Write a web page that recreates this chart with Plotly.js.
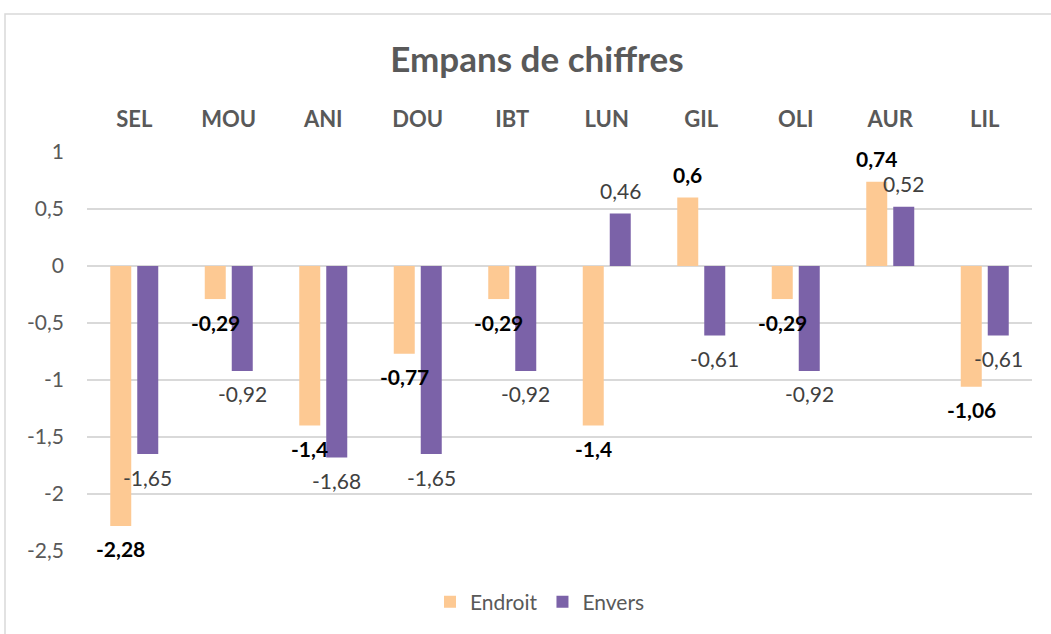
<!DOCTYPE html>
<html>
<head>
<meta charset="utf-8">
<script src="https://cdn.plot.ly/plotly-3.0.1.min.js"></script>
<style>
html,body{margin:0;padding:0;background:#fff;}
#chart{width:1051px;height:634px;}
</style>
</head>
<body>
<div id="chart"></div>
<script>
const categories = ["SEL","MOU","ANI","DOU","IBT","LUN","GIL","OLI","AUR","LIL"];
const endroit = [-2.28,-0.29,-1.4,-0.77,-0.29,-1.4,0.6,-0.29,0.74,-1.06];
const envers  = [-1.65,-0.92,-1.68,-1.65,-0.92,0.46,-0.61,-0.92,0.52,-0.61];
const yTickVals = [1,0.5,0,-0.5,-1,-1.5,-2,-2.5];
const yTickText = ["1","0,5","0","-0,5","-1","-1,5","-2","-2,5"];

const FONT = "Lato, 'Open Sans', sans-serif";
const W = 1051, H = 634;
const margin = {l:87, r:19, t:152, b:83};
const bargap = 0.4286, bargroupgap = 0.222;
const catW = (W - margin.l - margin.r) / categories.length;
const slot = catW * (1 - bargap) / 2;

function fmt(v){ return String(v).replace('.', ','); }

const traces = [
  {type:'bar', name:'Endroit', x:categories, y:endroit, marker:{color:'#FDC993'}, hoverinfo:'x+y'},
  {type:'bar', name:'Envers', x:categories, y:envers, marker:{color:'#7B62A8'}, hoverinfo:'x+y'}
];

const annotations = [];
[[endroit, -slot/2, true], [envers, slot/2, false]].forEach(([vals, xs, bold]) => {
  vals.forEach((v, i) => {
    annotations.push({
      x: categories[i], y: v, xref:'x', yref:'y',
      text: bold ? '<b>' + fmt(v) + '</b>' : fmt(v),
      showarrow:false, xshift: xs, yshift: v < 0 ? -23 : 23,
      font:{family:FONT, size:21, color: bold ? '#000000' : '#404040'}
    });
  });
});

const plotW = W - margin.l - margin.r, plotH = H - margin.t - margin.b;
const layout = {
  width:W, height:H, margin:margin,
  paper_bgcolor:'#ffffff', plot_bgcolor:'#ffffff',
  title:{text:'<b>Empans de chiffres</b>', font:{family:FONT, size:35, color:'#595959'},
         x:(537)/W, xanchor:'center', y:1-60/H, yanchor:'middle'},
  barmode:'group', bargap:bargap, bargroupgap:bargroupgap,
  xaxis:{side:'top', type:'category', showgrid:false, zeroline:false, showline:false,
         ticks:'', ticklabelstandoff:20,
         tickfont:{family:FONT, size:22, color:'#595959', weight:'bold'}},
  yaxis:{range:[-2.5,1], tickvals:yTickVals, ticktext:yTickText, showgrid:true,
         gridcolor:'#d9d9d9', gridwidth:1.5, zeroline:true, zerolinecolor:'#d9d9d9', zerolinewidth:1.5,
         showline:false, ticks:'', ticklabelstandoff:22,
         tickfont:{family:FONT, size:21, color:'#595959'}},
  showlegend:true,
  legend:{orientation:'h', x:(540-margin.l)/plotW, xanchor:'center', y:-(602-(H-margin.b))/plotH, yanchor:'middle',
          font:{family:FONT, size:21, color:'#595959'}, itemwidth:30, traceorder:'normal'},
  annotations:annotations,
  shapes:[{type:'rect', xref:'paper', yref:'paper', layer:'below',
           x0:-(margin.l-5)/plotW, x1:1.1, y0:-0.4, y1:1+(margin.t-14)/plotH,
           line:{color:'#d9d9d9', width:1.5}, fillcolor:'rgba(0,0,0,0)'}]
};

Plotly.newPlot('chart', traces, layout, {displayModeBar:false, staticPlot:true});
</script>
</body>
</html>
